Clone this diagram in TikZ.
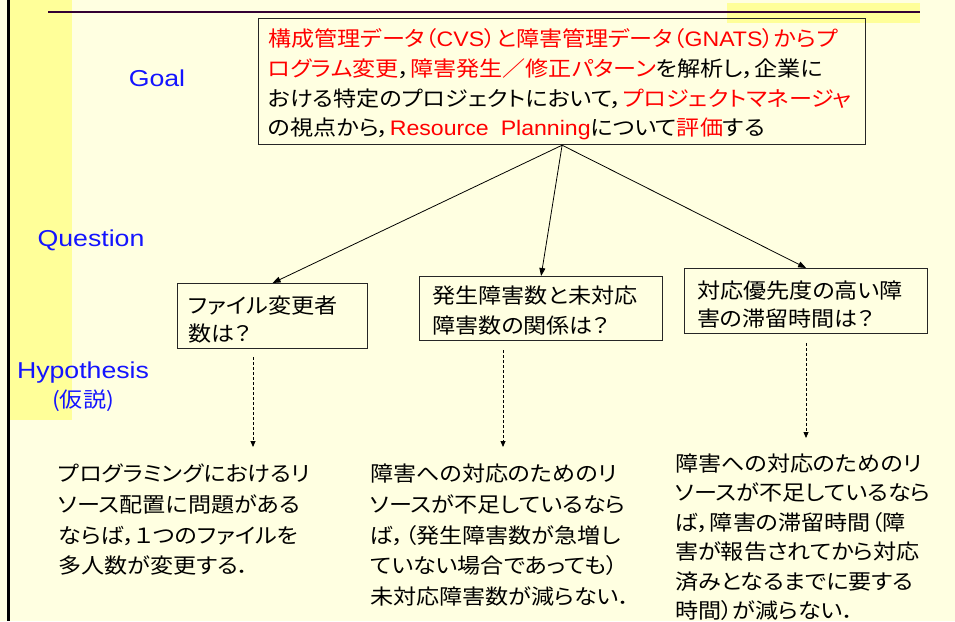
\documentclass[tikz,border=0pt]{standalone}
\usepackage{fontspec}
\usetikzlibrary{arrows.meta}
\newfontfamily\jp[RawFeature=+palt, FakeStretch=1.1]{Noto Sans CJK JP}
\newfontfamily\lat[FakeStretch=1.1]{Liberation Sans}
\newfontfamily\latw[FakeStretch=1.16]{Liberation Sans}
\definecolor{bgc}{RGB}{255,255,225}
\definecolor{barc}{RGB}{255,255,153}
\definecolor{lblblue}{RGB}{20,20,255}
\definecolor{toplinec}{RGB}{51,0,51}
\definecolor{redc}{RGB}{255,0,0}
\tikzset{
 qbox/.style={draw=black!85, line width=1.2pt, inner sep=0},
 txt/.style={anchor=base west, inner sep=0, font=\jp\fontsize{21}{21}\selectfont},
 lbltxt/.style={anchor=base, inner sep=0, text=lblblue, font=\latw\fontsize{23}{23}\selectfont},
 arr/.style={-{Triangle[length=8pt,width=6pt]}, line width=0.8pt},
 darr/.style={-{Triangle[length=6pt,width=5pt]}, line width=0.8pt, dash pattern=on 3pt off 2pt}
}
\newcommand{\rd}[1]{{\color{redc}#1}}
\begin{document}
\begin{tikzpicture}[x=1pt,y=-1pt]
\useasboundingbox (0,0) rectangle (955,621);
\fill[bgc] (0,0) rectangle (955,621);
\fill[barc] (9,0) rectangle (72,420);
\fill[barc] (727,3) rectangle (920,23);
\draw[toplinec, line width=2pt] (48,12) -- (920,12);
\draw[line width=2.5pt] (8.5,0) -- (8.5,621);

% labels
\node[lbltxt] (lgoal) at (157,86.5) {Goal};
\node[lbltxt] (lq) at (91,246.5) {Question};
\node[lbltxt] (lh) at (83,378.5) {Hypothesis};
\node[lbltxt, font=\jp\fontsize{21}{21}\selectfont] (lh2) at (83,407) {(仮説)};

% goal box
\node[qbox, minimum width=607, minimum height=126, anchor=north west] (goal) at (258,18) {};
\node[txt] (g1) at (268,46.5) {\rd{構成管理データ（{\lat CVS}）と障害管理データ（{\lat GNATS}）からプ}};
\node[txt] (g2) at (268,76.5) {\rd{ログラム変更}，\rd{障害発生／修正パターン}を解析し，企業に};
\node[txt] (g3) at (268,106.5) {おける特定のプロジェクトにおいて，\rd{プロジェクトマネージャ}};
\node[txt] (g4) at (268,135.5) {の視点から，\rd{{\lat Resource\hspace{12pt}Planning}}について\rd{評価}する};

% question boxes
\node[qbox, minimum width=190, minimum height=65, anchor=north west] (q1) at (177,283) {};
\node[qbox, minimum width=243, minimum height=64, anchor=north west] (q2) at (419,276) {};
\node[qbox, minimum width=243, minimum height=65, anchor=north west] (q3) at (684,268) {};

\node[txt] (q1a) at (188,313.5) {ファイル変更者};
\node[txt] (q1b) at (188,341.5) {数は？};
\node[txt] (q2a) at (432,303.5) {発生障害数と未対応};
\node[txt] (q2b) at (432,333) {障害数の関係は？};
\node[txt] (q3a) at (697,298.5) {対応優先度の高い障};
\node[txt] (q3b) at (697,326.5) {害の滞留時間は？};

% arrows goal -> questions
\draw[arr] (goal.south) -- (q1.north);
\draw[arr] (goal.south) -- (q2.north);
\draw[arr] (goal.south) -- (q3.north);

% dashed arrows
\coordinate (d1s) at (253,357); \coordinate (d1e) at (253,447);
\coordinate (d2s) at (503,350); \coordinate (d2e) at (503,447);
\coordinate (d3s) at (806,343); \coordinate (d3e) at (806,438);
\draw[darr] (d1s) -- (d1e);
\draw[darr] (d2s) -- (d2e);
\draw[darr] (d3s) -- (d3e);

% hypotheses
\node[txt] (h1a) at (58,481.5) {プログラミングにおけるリ};
\node[txt] (h1b) at (58,512) {ソース配置に問題がある};
\node[txt] (h1c) at (58,543) {ならば，１つのファイルを};
\node[txt] (h1d) at (58,573.5) {多人数が変更する．};

\node[txt] (h2a) at (370,481.5) {障害への対応のためのリ};
\node[txt] (h2b) at (370,512) {ソースが不足しているなら};
\node[txt] (h2c) at (370,543) {ば，（発生障害数が急増し};
\node[txt] (h2d) at (370,573.5) {ていない場合であっても）};
\node[txt] (h2e) at (370,604) {未対応障害数が減らない．};

\node[txt] (h3a) at (675,471.5) {障害への対応のためのリ};
\node[txt] (h3b) at (675,500.5) {ソースが不足しているなら};
\node[txt] (h3c) at (675,530) {ば，障害の滞留時間（障};
\node[txt] (h3d) at (675,559.5) {害が報告されてから対応};
\node[txt] (h3e) at (675,589) {済みとなるまでに要する};
\node[txt] (h3f) at (675,618) {時間）が減らない．};
\end{tikzpicture}
\end{document}
